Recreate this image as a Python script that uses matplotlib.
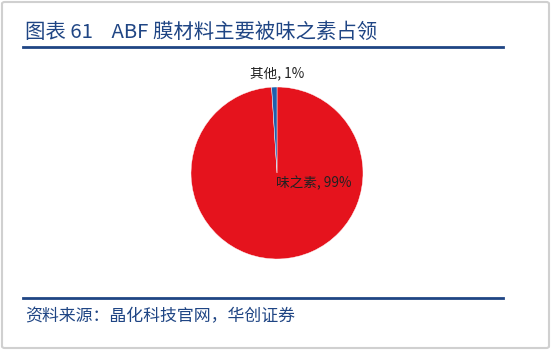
import matplotlib
matplotlib.use("Agg")
import matplotlib.pyplot as plt
from matplotlib.patches import FancyBboxPatch
from matplotlib.lines import Line2D

plt.rcParams['font.family'] = ['Noto Sans CJK SC', 'DejaVu Sans']

labels = ['味之素', '其他']
values = [99, 1]
colors = ['#E5131D', '#1F5FAD']
title = '图表 61    ABF 膜材料主要被味之素占领'
source = '资料来源：晶化科技官网，华创证券'

W, H = 551, 350
fig = plt.figure(figsize=(W / 100, H / 100), dpi=100)
fig.patch.set_facecolor('white')

# outer frame
fig.add_artist(FancyBboxPatch((2 / W, 2 / H), (W - 4) / W, (H - 4) / H,
                              boxstyle='round,pad=0,rounding_size=0.005',
                              transform=fig.transFigure, fill=False,
                              edgecolor='#D0D0D0', linewidth=1.5))

navy = '#1F4584'
fig.text(25 / W, 1 - 32 / H, title, fontsize=14.7, color=navy,
         va='center', ha='left')
fig.add_artist(Line2D([23 / W, 503 / W], [1 - 47 / H, 1 - 47 / H],
                      transform=fig.transFigure, color=navy, linewidth=2))
fig.add_artist(Line2D([23 / W, 503 / W], [1 - 298 / H, 1 - 298 / H],
                      transform=fig.transFigure, color=navy, linewidth=2))
fig.text(25 / W, 1 - 316 / H, source, fontsize=12.2, color=navy,
         va='center', ha='left', style='italic')

# pie axes: center (277,173), radius 86
cx, cy, r = 277, 173, 86
ax = fig.add_axes([(cx - r) / W, (H - cy - r) / H, 2 * r / W, 2 * r / H])
wedges, _ = ax.pie(values, colors=colors, startangle=90, counterclock=False,
                   wedgeprops=dict(edgecolor='white', linewidth=0.3))
ax.set_aspect('equal')
ax.set_xlim(-1, 1)
ax.set_ylim(-1, 1)
ax.axis('off')

fig.text(277 / W, 1 - 73 / H, f'{labels[1]}, {values[1]}%', fontsize=9.8,
         ha='center', va='center', color='#222222')
fig.text(314 / W, 1 - 183 / H, f'{labels[0]}, {values[0]}%', fontsize=9.8,
         ha='center', va='center', color='#222222')

fig.savefig('out.png', dpi=100)
